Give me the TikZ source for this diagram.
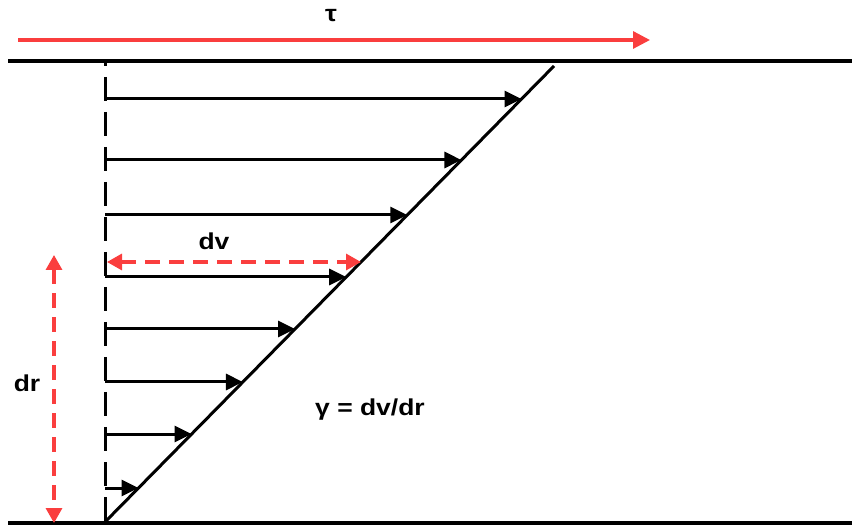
\documentclass[tikz,border=0pt]{standalone}
\usepackage{fontspec}
\setmainfont{Liberation Sans}
\usetikzlibrary{arrows.meta}
\definecolor{myred}{RGB}{250,62,62}
\tikzset{
  x=1pt, y=-1pt,
  wall/.style={line width=3.2pt, black},
  vel/.style={line width=3pt, black, -{Triangle[length=17pt,width=16pt]}},
  redarrow/.style={line width=3.2pt, myred},
  redtip/.tip={Triangle[length=15pt,width=16pt]},
  lbl/.style={font=\fontsize{23}{27}\selectfont\bfseries, inner sep=0pt, xscale=1.15, transform shape},
}
\begin{document}
\begin{tikzpicture}
\useasboundingbox (0,0) rectangle (852,529);
% walls
\coordinate (tl) at (8,61);
\coordinate (tr) at (852,61);
\coordinate (bl) at (8,523);
\coordinate (br) at (852,523);
\draw[wall] (tl) -- (tr);
\draw[wall] (bl) -- (br);
% dashed reference line
\coordinate (dtop) at (105,62);
\coordinate (dbot) at (105,522);
\draw[line width=3pt, dash pattern=on 24pt off 11pt, dash phase=20pt] (dtop) -- (dbot);
% diagonal profile
\coordinate (gtop) at (554,66);
\coordinate (gbot) at (105,522);
\draw[line width=3pt] (gbot) -- (gtop);
% velocity arrows
\foreach \i/\y/\x in {1/99/521.5, 2/160/461.4, 3/215/407.3, 4/277/346.2, 5/329/295.0, 6/382/242.9, 7/434/191.6, 8/488/138.5}{
  \coordinate (s\i) at (105,\y);
  \coordinate (e\i) at (\x,\y);
  \draw[vel] (s\i) -- (e\i);
}
% tau arrow
\coordinate (ta) at (18,40);
\coordinate (tb) at (650,40);
\draw[redarrow, -{Triangle[length=17pt,width=17pt]}] (ta) -- (tb);
\node[lbl] (tau) at (331,16) {τ};
% dv arrow
\coordinate (dva) at (107,262);
\coordinate (dvb) at (361,262);
\draw[redarrow, dash pattern=on 15pt off 9pt, redtip-redtip] (dva) -- (dvb);
\node[lbl] (dv) at (214,241) {dv};
% dr arrow
\coordinate (dra) at (54,255);
\coordinate (drb) at (54,523);
\draw[redarrow, dash pattern=on 15pt off 9pt, redtip-redtip] (dra) -- (drb);
\node[lbl] (dr) at (27,383) {dr};
% formula
\node[lbl] (gam) at (370,410) {γ = dv/dr};
\end{tikzpicture}
\end{document}
